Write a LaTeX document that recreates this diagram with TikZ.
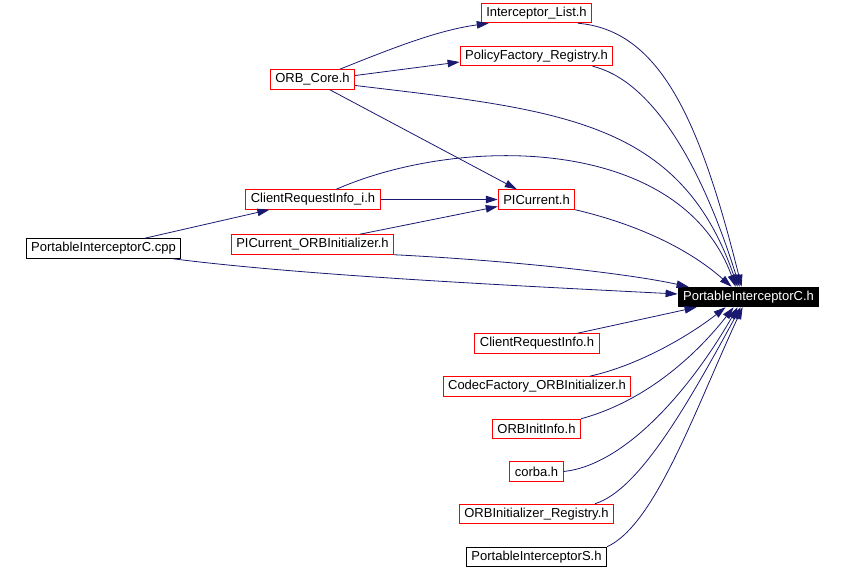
\documentclass[tikz,border=0pt]{standalone}
\usepackage{fontspec}
\setmainfont{Liberation Sans}
\usetikzlibrary{arrows.meta}
\definecolor{edgeblue}{RGB}{25,25,112}

\begin{document}
\begin{tikzpicture}[x=1pt, y=-1pt,
    file/.style={draw=red, fill=white, line width=1pt, inner xsep=5pt, inner ysep=0pt,
                 minimum height=19.5pt, font=\fontsize{13}{15}\selectfont},
    plain/.style={file, draw=black},
    main/.style={file, draw=black, fill=black, text=white},
    dep/.style={draw=edgeblue, line width=0.8pt, -{Triangle[length=12pt,width=7.5pt]}}]

    \useasboundingbox (0,0) rectangle (844,569);

    \node[plain] (cpp) at (103.5,248.5) {PortableInterceptorC.cpp}; % source file
    \node[main] (pich) at (748.5,297) {PortableInterceptorC.h}; % the header itself

    \node[file] (il) at (536.5,13) {Interceptor\_List.h};
    \node[file] (pf) at (536.5,56) {PolicyFactory\_Registry.h};
    \node[file] (orb) at (312.5,79.5) {ORB\_Core.h};
    \node[file] (crii) at (313,199.5) {ClientRequestInfo\_i.h};
    \node[file] (pic) at (536.5,199.5) {PICurrent.h};
    \node[file] (pico) at (312.5,244.5) {PICurrent\_ORBInitializer.h};

    \node[file] (cri) at (537,343.5) {ClientRequestInfo.h};
    \node[file] (codec) at (537,386.5) {CodecFactory\_ORBInitializer.h};
    \node[file] (oii) at (536.5,429) {ORBInitInfo.h};
    \node[file] (corba) at (536.5,471.5) {corba.h};
    \node[file] (oir) at (536.5,514) {ORBInitializer\_Registry.h};
    \node[plain] (pis) at (536.5,557) {PortableInterceptorS.h};

    % left part of the graph
    \draw[dep] ([xshift=119pt]cpp.north west) -- ([xshift=24pt]crii.south west);
    \draw[dep] ([xshift=147pt]cpp.south west) .. controls (300,275) and (500,285) .. ([yshift=3pt]pich.west);
    \draw[dep] (crii.east) -- (pic.west);
    \draw[dep] ([xshift=91pt]crii.north west) .. controls (460,135) and (680,135) .. ([xshift=58pt]pich.north west);

    \draw[dep] ([xshift=70pt]orb.north west) .. controls (400,45) and (440,30) .. ([xshift=8pt]il.south west);
    \draw[dep] ([yshift=4pt]orb.east) -- ([yshift=-6pt]pf.west);
    \draw[dep] ([yshift=-6pt]orb.east) .. controls (560,110) and (680,120) .. ([xshift=60pt]pich.north west);
    \draw[dep] ([xshift=60pt]orb.south west) -- ([xshift=19pt]pic.north west);

    \draw[dep] ([xshift=129pt]pico.north west) -- ([yshift=-7pt]pic.west);
    \draw[dep] (pico.south east) .. controls (500,260) and (620,272) .. ([xshift=11pt]pich.north west);

    % into the header from above
    \draw[dep] ([xshift=97pt]il.south west) .. controls (660,30) and (700,120) .. ([xshift=64pt]pich.north west);
    \draw[dep] ([xshift=133pt]pf.south west) .. controls (650,80) and (700,160) .. ([xshift=62pt]pich.north west);
    \draw[dep] (pic.south east) .. controls (640,225) and (690,250) .. ([xshift=54pt]pich.north west);

    % into the header from below
    \draw[dep] ([xshift=103pt]cri.north west) -- ([xshift=19pt]pich.south west);
    \draw[dep] ([xshift=147pt]codec.north west) .. controls (640,365) and (690,335) .. ([xshift=48pt]pich.south west);
    \draw[dep] (oii.north east) .. controls (650,400) and (700,350) .. ([xshift=56pt]pich.south west);
    \draw[dep] (corba.east) .. controls (625,465) and (690,390) .. ([xshift=60pt]pich.south west);
    \draw[dep] ([xshift=136pt]oir.north west) .. controls (640,490) and (690,400) .. ([xshift=63pt]pich.south west);
    \draw[dep] (pis.north east) .. controls (655,525) and (695,410) .. ([xshift=65pt]pich.south west);
\end{tikzpicture}
\end{document}
